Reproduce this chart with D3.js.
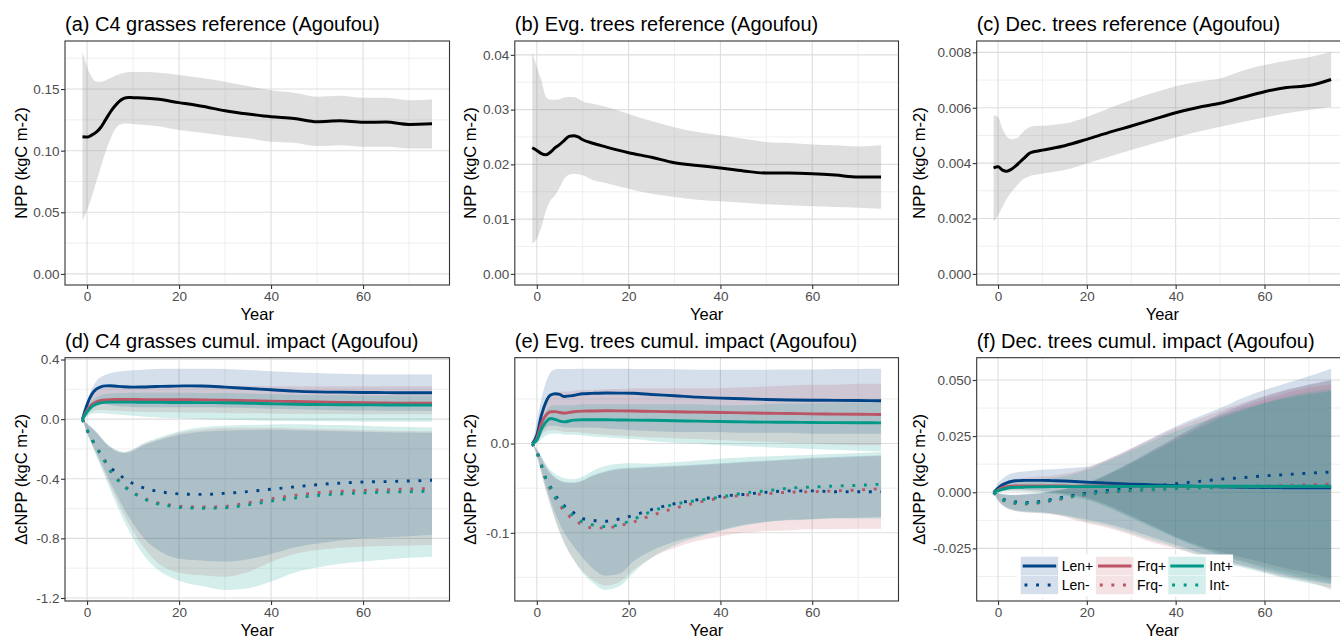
<!DOCTYPE html>
<html>
<head>
<meta charset="utf-8">
<script src="https://cdn.jsdelivr.net/npm/d3@7"></script>
<style>
  body { margin: 0; background: #ffffff; }
  svg { display: block; overflow: hidden; }
</style>
</head>
<body>
<svg id="fig" width="1340" height="638"></svg>
<script>
// ---------- Reference NPP runs (top row) ----------
const refYears = [-1,0,1,2,3,4,5,6,7,8,9,10,12,15,20,25,30,35,40,45,50,55,60,65,70,75];

const grassRefMean = [0.1113,0.111,0.1126,0.115,0.119,0.125,0.131,0.136,0.14,0.1424,0.1432,0.143,0.1427,0.1419,0.139,0.136,0.1324,0.1297,0.1275,0.1262,0.1235,0.1243,0.123,0.1232,0.1213,0.1218];
const grassRefHi   = [0.18,0.168,0.16,0.156,0.156,0.157,0.1587,0.1606,0.162,0.163,0.1638,0.1638,0.1638,0.1635,0.1614,0.159,0.156,0.1524,0.149,0.147,0.1438,0.1446,0.143,0.143,0.141,0.1416];
const grassRefLo   = [0.0436,0.0517,0.0625,0.0747,0.0869,0.099,0.1086,0.1167,0.1208,0.1221,0.1221,0.1216,0.121,0.12,0.1167,0.1145,0.1121,0.11,0.1072,0.1064,0.1037,0.1045,0.1032,0.1032,0.1018,0.1018];

const evgRefMean = [0.02304,0.02255,0.02195,0.02176,0.02225,0.02304,0.02365,0.0244,0.0251,0.02523,0.025,0.0245,0.0239,0.0232,0.02213,0.0213,0.0203,0.0198,0.01933,0.0188,0.01842,0.01842,0.0183,0.01805,0.01769,0.01769];
const evgRefHi   = [0.0405,0.03775,0.0353,0.0323,0.0318,0.0318,0.0319,0.0322,0.0323,0.0323,0.032,0.0315,0.0311,0.0305,0.0292,0.0279,0.0268,0.0259,0.0253,0.0247,0.0241,0.0239,0.02365,0.02347,0.02328,0.02347];
const evgRefLo   = [0.00553,0.00644,0.00857,0.0116,0.01343,0.01435,0.01587,0.01739,0.01812,0.0183,0.0182,0.018,0.0172,0.0166,0.01556,0.01465,0.01404,0.01356,0.01325,0.013,0.0127,0.01252,0.01234,0.01222,0.0121,0.01191];

const decRefMean = [0.00383,0.00387,0.00375,0.00371,0.00378,0.0039,0.00405,0.0042,0.00435,0.00441,0.00444,0.00447,0.00453,0.00463,0.00486,0.00511,0.00534,0.00558,0.00582,0.00601,0.00616,0.00637,0.00658,0.00673,0.0068,0.00702];
const decRefHi   = [0.00573,0.00567,0.00525,0.00495,0.00486,0.00489,0.00501,0.00519,0.00529,0.00534,0.00535,0.00535,0.00538,0.00543,0.00567,0.00598,0.00628,0.00654,0.00678,0.00694,0.00706,0.00734,0.00754,0.0077,0.00782,0.00801];
const decRefLo   = [0.00188,0.00212,0.00242,0.00272,0.00296,0.00314,0.00333,0.00345,0.00352,0.00357,0.0036,0.00363,0.00367,0.00375,0.00399,0.00423,0.00447,0.00471,0.00493,0.00513,0.00531,0.00549,0.00565,0.0058,0.00592,0.00604];

// ---------- Cumulative impact runs (bottom row) ----------
const impYears = [-1,0,1,2,3,4,5,6,8,10,12,15,18,21,25,30,35,40,45,50,55,60,65,70,75];

// C4 grasses
const grassLenP   = [0,0.098,0.165,0.201,0.217,0.223,0.224,0.222,0.217,0.215,0.216,0.219,0.221,0.223,0.222,0.215,0.206,0.197,0.188,0.183,0.181,0.179,0.178,0.177,0.177];
const grassLenPLo = [0,0.06,0.1,0.11,0.105,0.1,0.095,0.09,0.085,0.082,0.08,0.08,0.08,0.08,0.08,0.078,0.075,0.07,0.066,0.063,0.06,0.058,0.057,0.056,0.055];
const grassLenPHi = [0,0.12,0.2,0.255,0.282,0.298,0.308,0.315,0.323,0.328,0.332,0.336,0.338,0.338,0.338,0.336,0.33,0.322,0.315,0.31,0.305,0.302,0.3,0.3,0.3];
const grassFrqP   = [0,0.06,0.098,0.116,0.125,0.129,0.131,0.132,0.132,0.132,0.131,0.131,0.13,0.13,0.129,0.127,0.124,0.121,0.118,0.115,0.112,0.11,0.108,0.107,0.107];
const grassFrqPLo = [0,0.03,0.05,0.06,0.062,0.062,0.06,0.058,0.055,0.052,0.05,0.048,0.046,0.045,0.044,0.042,0.04,0.038,0.036,0.035,0.034,0.033,0.032,0.032,0.032];
const grassFrqPHi = [0,0.1,0.16,0.19,0.205,0.212,0.216,0.218,0.22,0.221,0.222,0.223,0.224,0.224,0.224,0.223,0.222,0.221,0.22,0.22,0.22,0.22,0.22,0.22,0.22];
const grassIntP   = [0,0.049,0.083,0.1,0.11,0.113,0.114,0.114,0.114,0.114,0.113,0.113,0.112,0.112,0.111,0.11,0.107,0.103,0.1,0.098,0.097,0.096,0.095,0.094,0.094];
const grassIntPLo = [0,0.02,0.035,0.04,0.04,0.038,0.035,0.032,0.027,0.022,0.018,0.013,0.008,0.004,0,-0.004,-0.008,-0.011,-0.013,-0.015,-0.016,-0.017,-0.018,-0.018,-0.018];
const grassIntPHi = [0,0.075,0.12,0.145,0.16,0.168,0.172,0.174,0.176,0.177,0.177,0.177,0.177,0.177,0.176,0.175,0.172,0.168,0.164,0.162,0.16,0.159,0.158,0.157,0.157];
const grassLenM   = [0,-0.074,-0.132,-0.187,-0.237,-0.285,-0.32,-0.35,-0.395,-0.432,-0.458,-0.482,-0.496,-0.503,-0.505,-0.498,-0.486,-0.47,-0.455,-0.44,-0.429,-0.422,-0.419,-0.415,-0.41];
const grassLenMLo = [0,-0.09,-0.16,-0.225,-0.29,-0.355,-0.42,-0.48,-0.6,-0.7,-0.785,-0.87,-0.92,-0.94,-0.948,-0.956,-0.94,-0.905,-0.862,-0.835,-0.815,-0.8,-0.792,-0.785,-0.778];
const grassLenMHi = [0,-0.032,-0.058,-0.09,-0.125,-0.162,-0.19,-0.21,-0.228,-0.212,-0.18,-0.147,-0.12,-0.1,-0.085,-0.077,-0.073,-0.072,-0.074,-0.078,-0.082,-0.085,-0.088,-0.09,-0.092];
const grassFrqM   = [0,-0.074,-0.132,-0.187,-0.237,-0.29,-0.345,-0.38,-0.445,-0.49,-0.525,-0.56,-0.576,-0.587,-0.59,-0.585,-0.561,-0.534,-0.512,-0.494,-0.485,-0.478,-0.474,-0.469,-0.465];
const grassFrqMLo = [0,-0.092,-0.165,-0.235,-0.305,-0.375,-0.445,-0.51,-0.64,-0.75,-0.845,-0.955,-1.012,-1.035,-1.048,-1.057,-1.025,-0.958,-0.905,-0.878,-0.863,-0.856,-0.851,-0.848,-0.845];
const grassFrqMHi = [0,-0.032,-0.058,-0.09,-0.125,-0.16,-0.186,-0.206,-0.224,-0.207,-0.172,-0.138,-0.11,-0.087,-0.07,-0.06,-0.057,-0.058,-0.062,-0.066,-0.07,-0.074,-0.078,-0.08,-0.082];
const grassIntM   = [0,-0.074,-0.132,-0.187,-0.237,-0.29,-0.345,-0.385,-0.45,-0.495,-0.53,-0.565,-0.583,-0.594,-0.598,-0.595,-0.575,-0.55,-0.53,-0.512,-0.502,-0.495,-0.49,-0.487,-0.484];
const grassIntMLo = [0,-0.095,-0.17,-0.245,-0.32,-0.395,-0.47,-0.545,-0.68,-0.8,-0.9,-1.0,-1.06,-1.095,-1.12,-1.146,-1.135,-1.09,-1.03,-0.995,-0.97,-0.956,-0.942,-0.93,-0.923];
const grassIntMHi = [0,-0.03,-0.055,-0.085,-0.12,-0.155,-0.18,-0.2,-0.218,-0.2,-0.165,-0.13,-0.1,-0.075,-0.055,-0.045,-0.04,-0.036,-0.035,-0.037,-0.04,-0.045,-0.05,-0.053,-0.056];

// Evergreen trees
const evgLenP   = [0,0.0094,0.0318,0.0468,0.0543,0.0558,0.055,0.0528,0.0539,0.0558,0.0562,0.0566,0.0565,0.0563,0.055,0.0536,0.052,0.0509,0.0502,0.0494,0.0488,0.0486,0.0484,0.0482,0.048];
const evgLenPLo = [0,0.004,0.012,0.018,0.02,0.02,0.019,0.018,0.018,0.018,0.018,0.017,0.016,0.015,0.014,0.013,0.013,0.013,0.012,0.012,0.012,0.011,0.011,0.011,0.011];
const evgLenPHi = [0,0.025,0.05,0.069,0.08,0.083,0.0835,0.0835,0.0836,0.0837,0.0837,0.0837,0.0837,0.0836,0.0835,0.0832,0.0828,0.0826,0.0826,0.0827,0.0829,0.0831,0.0834,0.0836,0.0838];
const evgFrqP   = [0,0.0056,0.0225,0.0318,0.0356,0.0358,0.0348,0.034,0.0356,0.0363,0.0365,0.0367,0.0366,0.0364,0.036,0.0356,0.0352,0.0348,0.0344,0.034,0.0337,0.0333,0.033,0.0328,0.0326];
const evgFrqPLo = [0,0.002,0.009,0.014,0.015,0.015,0.014,0.013,0.013,0.012,0.011,0.01,0.009,0.008,0.007,0.006,0.005,0.004,0.003,0.002,0.001,0,-0.001,-0.002,-0.002];
const evgFrqPHi = [0,0.015,0.035,0.048,0.055,0.057,0.058,0.058,0.059,0.06,0.06,0.061,0.061,0.062,0.062,0.062,0.062,0.062,0.063,0.064,0.065,0.066,0.066,0.067,0.067];
const evgIntP   = [0,0.0037,0.0161,0.0243,0.0281,0.027,0.0251,0.0243,0.0262,0.0266,0.0266,0.0266,0.0264,0.0263,0.0261,0.0255,0.0251,0.0247,0.0243,0.024,0.0238,0.0236,0.0234,0.0233,0.0232];
const evgIntPLo = [0,0,0.005,0.009,0.011,0.011,0.011,0.01,0.01,0.009,0.008,0.007,0.006,0.005,0.003,0.001,0,-0.002,-0.003,-0.004,-0.005,-0.006,-0.007,-0.008,-0.009];
const evgIntPHi = [0,0.01,0.026,0.036,0.042,0.043,0.043,0.043,0.043,0.044,0.044,0.044,0.044,0.044,0.044,0.044,0.044,0.043,0.043,0.044,0.045,0.045,0.046,0.046,0.047];
const evgLenM   = [0,-0.009,-0.024,-0.04,-0.049,-0.058,-0.064,-0.07,-0.0775,-0.084,-0.086,-0.087,-0.0845,-0.0805,-0.074,-0.0674,-0.063,-0.059,-0.057,-0.0545,-0.053,-0.053,-0.054,-0.054,-0.054];
const evgLenMLo = [0,-0.012,-0.03,-0.048,-0.064,-0.078,-0.09,-0.1,-0.115,-0.128,-0.139,-0.148,-0.146,-0.132,-0.12,-0.11,-0.103,-0.097,-0.091,-0.0875,-0.0855,-0.0845,-0.0835,-0.083,-0.0824];
const evgLenMHi = [0,-0.007,-0.016,-0.026,-0.033,-0.038,-0.041,-0.043,-0.0435,-0.041,-0.036,-0.031,-0.028,-0.027,-0.026,-0.025,-0.0235,-0.022,-0.0205,-0.019,-0.0175,-0.016,-0.015,-0.014,-0.013];
const evgFrqM   = [0,-0.01,-0.025,-0.041,-0.052,-0.061,-0.069,-0.076,-0.085,-0.091,-0.0945,-0.0945,-0.092,-0.088,-0.0805,-0.0725,-0.066,-0.061,-0.058,-0.0562,-0.0545,-0.054,-0.053,-0.052,-0.0505];
const evgFrqMLo = [0,-0.014,-0.034,-0.053,-0.07,-0.086,-0.1,-0.112,-0.13,-0.143,-0.152,-0.159,-0.155,-0.142,-0.128,-0.117,-0.109,-0.104,-0.1,-0.098,-0.097,-0.096,-0.096,-0.0955,-0.0955];
const evgFrqMHi = [0,-0.007,-0.017,-0.027,-0.034,-0.039,-0.042,-0.044,-0.0445,-0.042,-0.037,-0.032,-0.029,-0.028,-0.027,-0.026,-0.0245,-0.023,-0.0215,-0.02,-0.0185,-0.017,-0.016,-0.015,-0.014];
const evgIntM   = [0,-0.01,-0.025,-0.04,-0.05,-0.06,-0.066,-0.072,-0.081,-0.088,-0.091,-0.093,-0.091,-0.085,-0.076,-0.068,-0.0638,-0.06,-0.0556,-0.053,-0.05,-0.0487,-0.0476,-0.0468,-0.0455];
const evgIntMLo = [0,-0.013,-0.033,-0.052,-0.069,-0.085,-0.099,-0.111,-0.13,-0.145,-0.155,-0.164,-0.16,-0.145,-0.128,-0.114,-0.105,-0.098,-0.092,-0.088,-0.086,-0.085,-0.084,-0.084,-0.084];
const evgIntMHi = [0,-0.006,-0.014,-0.023,-0.03,-0.034,-0.037,-0.039,-0.04,-0.037,-0.031,-0.025,-0.0225,-0.0222,-0.0225,-0.021,-0.019,-0.017,-0.0155,-0.0145,-0.0135,-0.0125,-0.0115,-0.0105,-0.0094];

// Deciduous trees
const decLenP   = [0,0.0018,0.0033,0.0042,0.0048,0.0051,0.0052,0.0053,0.0053,0.0053,0.0052,0.005,0.0047,0.0044,0.004,0.0036,0.0033,0.0029,0.0026,0.0024,0.0022,0.0021,0.002,0.002,0.002];
const decLenPLo = [0,0.0005,0.001,0.0012,0.0013,0.0013,0.0013,0.0012,0.001,0.0007,0.0003,-0.0005,-0.0015,-0.003,-0.006,-0.0105,-0.015,-0.0198,-0.0235,-0.0265,-0.029,-0.0315,-0.034,-0.036,-0.0383];
const decLenPHi = [0,0.004,0.006,0.0075,0.0083,0.0088,0.0091,0.0093,0.0097,0.01,0.0102,0.0106,0.011,0.0118,0.0148,0.0195,0.0245,0.0293,0.0335,0.0375,0.0419,0.0455,0.0487,0.0517,0.055];
const decFrqP   = [0,0.001,0.0021,0.0025,0.0027,0.0028,0.0028,0.0028,0.0028,0.0028,0.0028,0.0028,0.0027,0.0027,0.0027,0.0026,0.0026,0.0025,0.0025,0.0025,0.0025,0.0025,0.0026,0.0026,0.0027];
const decFrqPLo = [0,0.0003,0.0006,0.0008,0.0008,0.0008,0.0008,0.0007,0.0005,0.0002,-0.0002,-0.001,-0.002,-0.0035,-0.0065,-0.011,-0.0155,-0.02,-0.024,-0.0275,-0.0305,-0.033,-0.0355,-0.0375,-0.0395];
const decFrqPHi = [0,0.0025,0.004,0.005,0.0056,0.006,0.0063,0.0065,0.0068,0.0071,0.0074,0.0082,0.0095,0.0115,0.015,0.0195,0.024,0.0285,0.0325,0.0363,0.0398,0.043,0.0458,0.0478,0.0498];
const decIntP   = [0,0.0006,0.0013,0.0018,0.0021,0.0022,0.0022,0.0023,0.0024,0.0024,0.0025,0.0025,0.0025,0.0025,0.0025,0.0026,0.0026,0.0027,0.0027,0.0027,0.0027,0.0027,0.0027,0.0027,0.0027];
const decIntPLo = [0,0.0002,0.0004,0.0005,0.0005,0.0005,0.0004,0.0003,0.0001,-0.0002,-0.0006,-0.0014,-0.0025,-0.004,-0.007,-0.0115,-0.016,-0.0205,-0.0245,-0.028,-0.031,-0.034,-0.0365,-0.0385,-0.0405];
const decIntPHi = [0,0.0018,0.003,0.0038,0.0043,0.0047,0.005,0.0052,0.0056,0.0059,0.0063,0.0072,0.0087,0.0107,0.014,0.0185,0.023,0.0272,0.0308,0.034,0.037,0.0397,0.042,0.0437,0.045];
const decLenM   = [0,-0.0018,-0.003,-0.0036,-0.004,-0.0043,-0.0045,-0.0046,-0.0044,-0.0039,-0.0032,-0.0021,-0.001,-0.0001,0.0009,0.0019,0.0028,0.0038,0.0048,0.0058,0.0065,0.0073,0.0079,0.0085,0.009];
const decLenMLo = [0,-0.0035,-0.0055,-0.0068,-0.0075,-0.008,-0.0083,-0.0085,-0.0087,-0.0089,-0.0093,-0.0102,-0.0113,-0.0125,-0.0142,-0.017,-0.0202,-0.0235,-0.0267,-0.0298,-0.0325,-0.035,-0.0373,-0.0393,-0.041];
const decLenMHi = [0,-0.0003,-0.0008,-0.001,-0.0011,-0.0011,-0.001,-0.0009,-0.0006,-0.0002,0.0004,0.0015,0.003,0.005,0.0085,0.0135,0.019,0.0245,0.03,0.035,0.039,0.0425,0.0455,0.048,0.05];
const decFrqM   = [0,-0.002,-0.0034,-0.0042,-0.0047,-0.005,-0.0052,-0.0052,-0.005,-0.0045,-0.0038,-0.0027,-0.0016,-0.0008,0,0.0006,0.0011,0.0016,0.002,0.0023,0.0026,0.0029,0.0031,0.0034,0.0036];
const decFrqMLo = [0,-0.0038,-0.006,-0.0072,-0.008,-0.0085,-0.0088,-0.009,-0.0092,-0.0094,-0.0098,-0.011,-0.0128,-0.0143,-0.016,-0.019,-0.0225,-0.025,-0.028,-0.031,-0.033,-0.0355,-0.038,-0.04,-0.0435];
const decFrqMHi = [0,-0.0004,-0.001,-0.0012,-0.0013,-0.0013,-0.0012,-0.0011,-0.0008,-0.0004,0.0002,0.0012,0.0026,0.0045,0.008,0.013,0.0185,0.024,0.0292,0.034,0.0378,0.0412,0.0442,0.0465,0.048];
const decIntM   = [0,-0.0019,-0.0032,-0.004,-0.0045,-0.0048,-0.005,-0.005,-0.0048,-0.0043,-0.0036,-0.0025,-0.0014,-0.0006,0.0002,0.0008,0.0012,0.0016,0.0019,0.0021,0.0023,0.0024,0.0025,0.0026,0.0027];
const decIntMLo = [0,-0.0036,-0.0057,-0.007,-0.0078,-0.0083,-0.0086,-0.0088,-0.009,-0.0092,-0.0096,-0.0106,-0.012,-0.0135,-0.0152,-0.0182,-0.0215,-0.0245,-0.0278,-0.031,-0.0335,-0.036,-0.0385,-0.0405,-0.0425];
const decIntMHi = [0,-0.0004,-0.0009,-0.0011,-0.0012,-0.0012,-0.0011,-0.001,-0.0007,-0.0003,0.0003,0.0013,0.0027,0.0046,0.008,0.0128,0.018,0.0232,0.0282,0.0328,0.0365,0.0398,0.0425,0.0445,0.046];

// ---------- Scenarios, ticks and labels ----------
const scenarioNames  = ["Len+", "Len-", "Frq+", "Frq-", "Int+", "Int-"];
const scenarioColors = ["#004488", "#004488", "#BB5566", "#BB5566", "#009988", "#009988"];
const scenarioDotted = [false, true, false, true, false, true];

const xTicks = [0, 20, 40, 60];
const xTickLabels = ["0", "20", "40", "60"];
const yTicksA = [0, 0.05, 0.10, 0.15];        const yLabelsA = ["0.00", "0.05", "0.10", "0.15"];
const yTicksB = [0, 0.01, 0.02, 0.03, 0.04];  const yLabelsB = ["0.00", "0.01", "0.02", "0.03", "0.04"];
const yTicksC = [0, 0.002, 0.004, 0.006, 0.008]; const yLabelsC = ["0.000", "0.002", "0.004", "0.006", "0.008"];
const yTicksD = [-1.2, -0.8, -0.4, 0, 0.4];   const yLabelsD = ["-1.2", "-0.8", "-0.4", "0.0", "0.4"];
const yTicksE = [-0.1, 0];                    const yLabelsE = ["-0.1", "0.0"];
const yTicksF = [-0.025, 0, 0.025, 0.05];     const yLabelsF = ["-0.025", "0.000", "0.025", "0.050"];

const panelTitles = [
  "(a) C4 grasses reference (Agoufou)",
  "(b) Evg. trees reference (Agoufou)",
  "(c) Dec. trees reference (Agoufou)",
  "(d) C4 grasses cumul. impact (Agoufou)",
  "(e) Evg. trees cumul. impact (Agoufou)",
  "(f) Dec. trees cumul. impact (Agoufou)"
];
const refYLabel = "NPP (kgC m-2)";
const impYLabel = "\u0394cNPP (kgC m-2)";
const xLabel = "Year";

// ---------- Layout ----------
const FONT = '"Liberation Sans", Arial, Helvetica, sans-serif';
const cellW = 1348 / 3;
const colLeft  = [65, 514.8, 976.7];
const colRight = [449.5, 898.5, 1348];
const rowTop    = [41, 357.7];
const rowBottom = [285, 601];

const svg = d3.select("#fig");
svg.append("rect").attr("width", 1340).attr("height", 638).attr("fill", "#ffffff");

const expand = ([a, b]) => [a - 0.05 * (b - a), b + 0.05 * (b - a)];
function minorBreaks(ticks, domain) {
  const step = ticks.length > 1 ? ticks[1] - ticks[0] : 0.1;
  const mids = [ticks[0] - step / 2, ...ticks.map(t => t + step / 2)];
  const lo = Math.min(...domain), hi = Math.max(...domain);
  return mids.filter(m => m > lo && m < hi);
}

let clipId = 0;
function drawPanel(p) {
  const g = svg.append("g");
  const x = d3.scaleLinear().domain(expand(d3.extent(p.years))).range([p.left, p.right]);
  const vals = p.series.flatMap(s => s.lo.concat(s.hi));
  if (p.withZero) vals.push(0);
  const y = d3.scaleLinear().domain(expand(d3.extent(vals))).range([p.bottom, p.top]);

  const id = "clip" + (clipId++);
  g.append("clipPath").attr("id", id).append("rect")
    .attr("x", p.left).attr("y", p.top).attr("width", p.right - p.left).attr("height", p.bottom - p.top);

  // grid
  const grid = g.append("g");
  minorBreaks(xTicks, x.domain()).forEach(v => grid.append("line")
    .attr("x1", x(v)).attr("x2", x(v)).attr("y1", p.top).attr("y2", p.bottom)
    .attr("stroke", "#ebebeb").attr("stroke-width", 0.8));
  minorBreaks(p.yTicks, y.domain()).forEach(v => grid.append("line")
    .attr("x1", p.left).attr("x2", p.right).attr("y1", y(v)).attr("y2", y(v))
    .attr("stroke", "#ebebeb").attr("stroke-width", 0.8));
  xTicks.forEach(v => grid.append("line")
    .attr("x1", x(v)).attr("x2", x(v)).attr("y1", p.top).attr("y2", p.bottom)
    .attr("stroke", "#dedede").attr("stroke-width", 1.1));
  p.yTicks.forEach(v => grid.append("line")
    .attr("x1", p.left).attr("x2", p.right).attr("y1", y(v)).attr("y2", y(v))
    .attr("stroke", "#dedede").attr("stroke-width", 1.1));

  const data = g.append("g").attr("clip-path", `url(#${id})`);
  const idx = d3.range(p.years.length);

  // ribbons
  p.series.forEach(s => {
    const area = d3.area()
      .x(i => x(p.years[i])).y0(i => y(s.lo[i])).y1(i => y(s.hi[i]))
      .curve(d3.curveMonotoneX);
    data.append("path").attr("d", area(idx))
      .attr("fill", s.fill).attr("fill-opacity", s.fillOpacity);
  });
  // lines
  p.series.forEach(s => {
    const line = d3.line().x(i => x(p.years[i])).y(i => y(s.mean[i])).curve(d3.curveMonotoneX);
    data.append("path").attr("d", line(idx))
      .attr("fill", "none").attr("stroke", s.color).attr("stroke-width", s.width)
      .attr("stroke-dasharray", s.dotted ? "2.9 8.7" : null)
      .attr("stroke-linecap", "butt").attr("stroke-linejoin", "round");
  });

  // panel border
  g.append("rect").attr("x", p.left).attr("y", p.top)
    .attr("width", p.right - p.left).attr("height", p.bottom - p.top)
    .attr("fill", "none").attr("stroke", "#333333").attr("stroke-width", 1.1);

  // axes
  const styleAxis = sel => {
    sel.select(".domain").remove();
    sel.selectAll(".tick line").attr("stroke", "#333333").attr("stroke-width", 1.1);
    sel.selectAll(".tick text").attr("fill", "#4d4d4d")
      .style("font-family", FONT).style("font-size", "13.5px");
  };
  g.append("g").attr("transform", `translate(0,${p.bottom})`)
    .call(d3.axisBottom(x).tickValues(xTicks).tickFormat((d, i) => xTickLabels[i])
      .tickSize(4).tickPadding(2.5).tickSizeOuter(0))
    .call(styleAxis);
  g.append("g").attr("transform", `translate(${p.left},0)`)
    .call(d3.axisLeft(y).tickValues(p.yTicks).tickFormat((d, i) => p.yLabels[i])
      .tickSize(4).tickPadding(1.5).tickSizeOuter(0))
    .call(styleAxis);

  // titles
  g.append("text").attr("x", p.left).attr("y", p.top - 10)
    .style("font-family", FONT).style("font-size", "20px").attr("fill", "#000")
    .text(p.title);
  g.append("text").attr("x", (p.left + p.right) / 2).attr("y", p.bottom + 35)
    .attr("text-anchor", "middle").style("font-family", FONT).style("font-size", "16.5px")
    .attr("fill", "#000").text(xLabel);
  g.append("text")
    .attr("transform", `translate(${p.cellLeft + 26.5},${(p.top + p.bottom) / 2}) rotate(-90)`)
    .attr("text-anchor", "middle").style("font-family", FONT).style("font-size", "16.5px")
    .attr("fill", "#000").text(p.yTitle);

  return { x, y, g };
}

// ---------- Top row ----------
const refSets = [
  [grassRefMean, grassRefLo, grassRefHi, yTicksA, yLabelsA],
  [evgRefMean, evgRefLo, evgRefHi, yTicksB, yLabelsB],
  [decRefMean, decRefLo, decRefHi, yTicksC, yLabelsC]
];
refSets.forEach(([mean, lo, hi, yt, yl], c) => {
  drawPanel({
    left: colLeft[c], right: colRight[c], top: rowTop[0], bottom: rowBottom[0],
    cellLeft: c * cellW, years: refYears, withZero: true,
    yTicks: yt, yLabels: yl, title: panelTitles[c], yTitle: refYLabel,
    series: [{ mean, lo, hi, color: "#000000", width: 3, dotted: false, fill: "#808080", fillOpacity: 0.25 }]
  });
});

// ---------- Bottom row ----------
const impSets = [
  { means: [grassLenP, grassLenM, grassFrqP, grassFrqM, grassIntP, grassIntM],
    los:   [grassLenPLo, grassLenMLo, grassFrqPLo, grassFrqMLo, grassIntPLo, grassIntMLo],
    his:   [grassLenPHi, grassLenMHi, grassFrqPHi, grassFrqMHi, grassIntPHi, grassIntMHi],
    yt: yTicksD, yl: yLabelsD },
  { means: [evgLenP, evgLenM, evgFrqP, evgFrqM, evgIntP, evgIntM],
    los:   [evgLenPLo, evgLenMLo, evgFrqPLo, evgFrqMLo, evgIntPLo, evgIntMLo],
    his:   [evgLenPHi, evgLenMHi, evgFrqPHi, evgFrqMHi, evgIntPHi, evgIntMHi],
    yt: yTicksE, yl: yLabelsE },
  { means: [decLenP, decLenM, decFrqP, decFrqM, decIntP, decIntM],
    los:   [decLenPLo, decLenMLo, decFrqPLo, decFrqMLo, decIntPLo, decIntMLo],
    his:   [decLenPHi, decLenMHi, decFrqPHi, decFrqMHi, decIntPHi, decIntMHi],
    yt: yTicksF, yl: yLabelsF }
];
const RIBBON_ALPHA = 0.17;
impSets.forEach((set, c) => {
  const series = scenarioNames.map((name, k) => ({
    mean: set.means[k], lo: set.los[k], hi: set.his[k],
    color: scenarioColors[k], width: 2.9, dotted: scenarioDotted[k],
    fill: scenarioColors[k], fillOpacity: RIBBON_ALPHA
  }));
  drawPanel({
    left: colLeft[c], right: colRight[c], top: rowTop[1], bottom: rowBottom[1],
    cellLeft: c * cellW, years: impYears, withZero: false,
    yTicks: set.yt, yLabels: set.yl, title: panelTitles[3 + c], yTitle: impYLabel,
    series
  });
});

// ---------- Legend (inside panel f) ----------
const leg = svg.append("g");
const keyX = [1020.7, 1096, 1168.3];
const keyY = [556.7, 575.7];
const keyW = 37.5, keyH = 18.5;
leg.append("rect").attr("x", 1017).attr("y", 554.5).attr("width", 216).attr("height", 42)
  .attr("fill", "#ffffff");
scenarioNames.forEach((name, k) => {
  const col = Math.floor(k / 2), row = k % 2;
  const kx = keyX[col], ky = keyY[row];
  leg.append("rect").attr("x", kx).attr("y", ky).attr("width", keyW).attr("height", keyH)
    .attr("fill", scenarioColors[k]).attr("fill-opacity", RIBBON_ALPHA);
  leg.append("line")
    .attr("x1", kx + (scenarioDotted[k] ? 3.8 : 2)).attr("x2", kx + keyW - 2)
    .attr("y1", ky + keyH / 2).attr("y2", ky + keyH / 2)
    .attr("stroke", scenarioColors[k]).attr("stroke-width", 2.9)
    .attr("stroke-dasharray", scenarioDotted[k] ? "2.9 8.7" : null);
  leg.append("text").attr("x", kx + keyW + 3.5).attr("y", ky + keyH / 2 + 5)
    .style("font-family", FONT).style("font-size", "14px").attr("fill", "#000")
    .text(name);
});
</script>
</body>
</html>
